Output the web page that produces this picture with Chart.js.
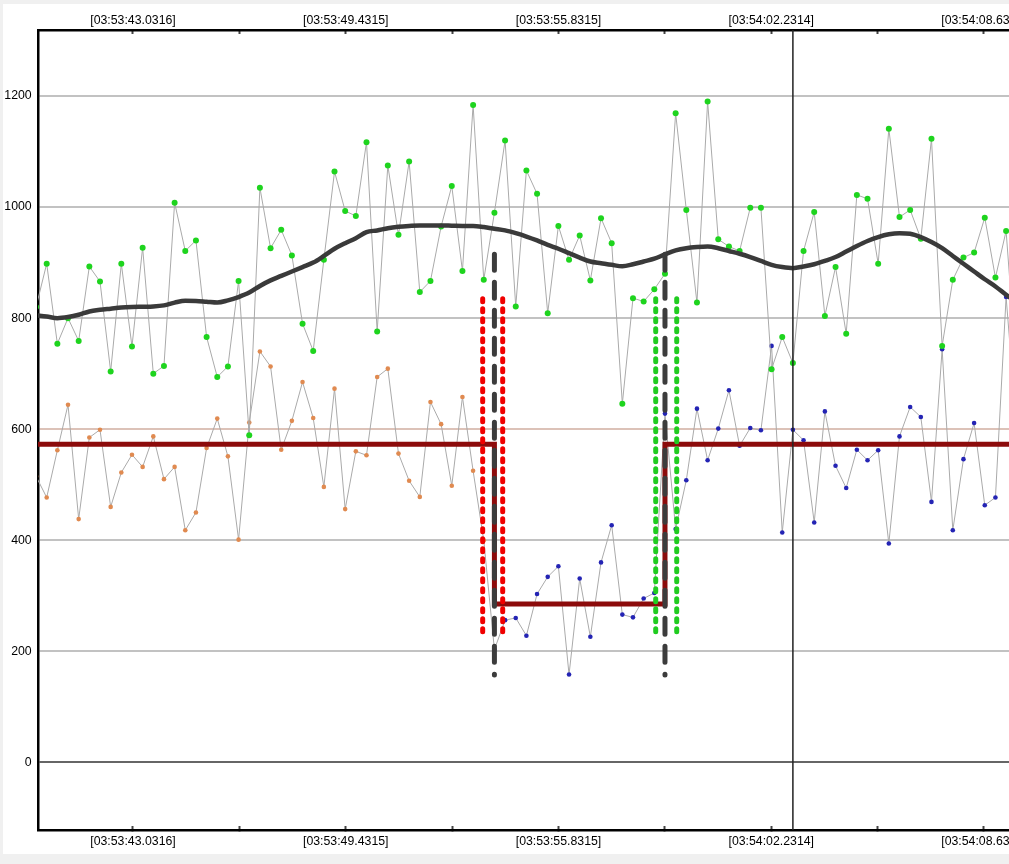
<!DOCTYPE html>
<html>
<head>
<meta charset="utf-8">
<title>Trace view</title>
<script src="https://cdn.jsdelivr.net/npm/chart.js@4.4.1/dist/chart.umd.min.js"></script>
<style>
  html, body { margin: 0; padding: 0; overflow: hidden; background: #f0f0f0; }
  #panel { position: absolute; left: 3px; top: 4px; width: 1060px; height: 850px; background: #fff; }
</style>
</head>
<body>
<div id="panel"><canvas id="chart" width="1060" height="850"></canvas></div>
<script>
// time axis is in seconds after 03:53:00
const sampleStart = 40.1148;   // first sample (just left of the plot edge)
const sampleStep = 0.32068;
const viewStart = 40.1738;
const viewEnd = 70.7076;

// upper trace (green markers)
const upperTrace = [
  820, 898, 754, 800, 759, 893, 866, 704, 898, 749,
  927, 700, 714, 1008, 921, 940, 766, 694, 713, 867,
  589, 1035, 926, 959, 913, 790, 741, 905, 1064, 993,
  984, 1117, 776, 1075, 950, 1082, 847, 867, 965, 1038,
  885, 1184, 869, 990, 1120, 821, 1066, 1024, 809, 966,
  905, 949, 868, 980, 935, 646, 836, 830, 852, 880,
  1169, 995, 828, 1190, 942, 929, 921, 999, 999, 708,
  766, 719, 921, 991, 804, 892, 772, 1022, 1015, 898,
  1141, 982, 995, 943, 1123, 750, 869, 909, 918, 981,
  873, 957, 700
];

// lower trace (orange markers, blue from the first guide on)
const lowerTrace = [
  515, 477, 562, 644, 438, 585, 599, 460, 522, 554,
  532, 587, 510, 532, 418, 450, 566, 619, 551, 401,
  612, 740, 713, 563, 615, 685, 620, 496, 673, 456,
  560, 553, 694, 709, 556, 507, 478, 649, 609, 498,
  658, 525, 400, 203, 256, 260, 228, 303, 334, 353,
  158, 331, 226, 360, 427, 266, 261, 295, 305, 628,
  420, 508, 637, 544, 601, 670, 570, 602, 598, 750,
  414, 599, 580, 432, 632, 534, 494, 563, 544, 562,
  394, 587, 640, 622, 469, 744, 418, 546, 611, 463,
  477, 838, 600
];
const lowerBlueFrom = 43;

// smoothed average of the upper trace
const smoothTrace = [
  805, 803, 800, 802, 806, 812, 815, 817, 819, 820,
  820.5, 821, 823, 828, 831.5, 831, 829.5, 828, 832, 838,
  846, 858, 868, 876, 884, 892, 900, 912, 925, 935,
  944, 955, 958, 962, 964.5, 966, 967, 967, 967, 966.5,
  966, 966, 964, 961, 958, 953, 947, 940, 932, 925,
  917, 909, 902, 899, 896, 893.5, 897, 902, 907, 915,
  922, 926, 928, 929, 926, 921, 916, 910, 903, 896,
  892, 890, 893, 897, 903, 910, 920, 930, 939, 946,
  951, 953, 952, 946, 937, 926, 912, 898, 884, 870,
  857, 842, 828
];

// level (step) line
const levelTimes = [40.0, 53.904, 59.035, 71.0];
const levelValues = [573, 285, 573, 573];

// vertical guides
const guideTimes = [53.904, 59.035];
const guideSpan = [157, 915];
const redBand = [53.551, 54.153];
const greenBand = [58.756, 59.388];
const bandSpan = [231, 835];
const cursorTime = 62.883;

// axes
const xTickSeconds = [43.0316, 49.4315, 55.8315, 62.2314, 68.6314];
const xTickLabels = ['[03:53:43.0316]', '[03:53:49.4315]', '[03:53:55.8315]', '[03:54:02.2314]', '[03:54:08.6314]'];
const yTicks = [0, 200, 400, 600, 800, 1000, 1200];
const yMin = -122;
const yMax = 1319;

const labelFont = { family: "'Liberation Sans', Arial, sans-serif", size: 12.3 };

function toPoints(values) {
  return values.map((v, i) => ({ x: sampleStart + i * sampleStep, y: v }));
}

function vLine(t, span) {
  return [{ x: t, y: span[1] }, { x: t, y: span[0] }];
}

function buildXTicks(scale) {
  const list = [];
  xTickSeconds.forEach((t, i) => {
    list.push({ value: t });
    if (i < xTickSeconds.length - 1) list.push({ value: (t + xTickSeconds[i + 1]) / 2 });
  });
  scale.ticks = list.filter(tk => tk.value >= scale.min && tk.value <= scale.max);
}

function xLabel(value) {
  const i = xTickSeconds.findIndex(t => Math.abs(t - value) < 0.001);
  return i >= 0 ? xTickLabels[i] : '';
}

function xAxis(position, height, pad) {
  return {
    type: 'linear',
    position: position,
    min: viewStart,
    max: viewEnd,
    afterBuildTicks: buildXTicks,
    afterFit: s => { s.height = height; },
    grid: { display: true, drawOnChartArea: false, drawTicks: true, tickLength: -4, tickColor: '#444', tickWidth: 2 },
    border: { display: true, color: '#000', width: 2.5 },
    ticks: { padding: pad, maxRotation: 0, autoSkip: false, color: '#000', font: labelFont, callback: xLabel }
  };
}

const dotted = { borderWidth: 5, borderDash: [3, 7], borderCapStyle: 'round', pointRadius: 0, order: 4, clip: 0 };
const dashed = { borderColor: '#3c3c3c', borderWidth: 5, borderDash: [16, 12], borderCapStyle: 'round', pointRadius: 0, order: 3, clip: 0 };

new Chart(document.getElementById('chart'), {
  type: 'line',
  data: {
    datasets: [
      Object.assign({ data: vLine(cursorTime, [yMin, yMax]) }, { borderColor: '#222', borderWidth: 1.5, pointRadius: 0, order: 1, clip: 0 }),
      Object.assign({ data: vLine(guideTimes[0], guideSpan) }, dashed),
      Object.assign({ data: vLine(guideTimes[1], guideSpan) }, dashed),
      Object.assign({ data: vLine(redBand[0], bandSpan), borderColor: '#f00000' }, dotted),
      Object.assign({ data: vLine(redBand[1], bandSpan), borderColor: '#f00000' }, dotted),
      Object.assign({ data: vLine(greenBand[0], bandSpan), borderColor: '#20cc20' }, dotted),
      Object.assign({ data: vLine(greenBand[1], bandSpan), borderColor: '#20cc20' }, dotted),
      {
        data: smoothTrace.map((v, i) => ({ x: sampleStart + i * sampleStep, y: v })),
        borderColor: '#3a3a3a', borderWidth: 4.5, pointRadius: 0,
        cubicInterpolationMode: 'monotone', order: 6, clip: 0
      },
      {
        data: levelTimes.map((t, i) => ({ x: t, y: levelValues[i] })),
        stepped: 'before', borderColor: '#8c0b0b', borderWidth: 5, pointRadius: 0, order: 7, clip: 0
      },
      {
        data: toPoints(upperTrace),
        borderColor: '#aaaaaa', borderWidth: 1, pointRadius: 3, pointBorderWidth: 0,
        pointBackgroundColor: '#1ed41e', order: 9, clip: 0
      },
      {
        data: toPoints(lowerTrace),
        borderColor: '#aaaaaa', borderWidth: 1, pointRadius: 2.3, pointBorderWidth: 0,
        pointBackgroundColor: lowerTrace.map((v, i) => i < lowerBlueFrom ? '#e08a50' : '#2424b4'),
        order: 10, clip: 0
      }
    ]
  },
  options: {
    responsive: false,
    animation: false,
    devicePixelRatio: 1,
    layout: { padding: { left: 0, top: 0, right: 10, bottom: 0 } },
    plugins: { legend: { display: false }, tooltip: { enabled: false } },
    scales: {
      x: xAxis('bottom', 24, 8.6),
      x2: xAxis('top', 26, 6.4),
      y: {
        type: 'linear',
        min: yMin,
        max: yMax,
        afterBuildTicks: s => { s.ticks = yTicks.map(v => ({ value: v })); },
        afterFit: s => { s.width = 35; },
        grid: {
          drawTicks: false,
          lineWidth: 2,
          color: c => c.tick.value === 0 ? '#666666' : (c.tick.value === 600 ? '#dcc2b8' : '#c2c2c2')
        },
        border: { display: true, color: '#000', width: 2.5 },
        ticks: { padding: 6.3, color: '#000', font: labelFont, callback: v => String(v) }
      }
    }
  }
});
</script>
</body>
</html>
